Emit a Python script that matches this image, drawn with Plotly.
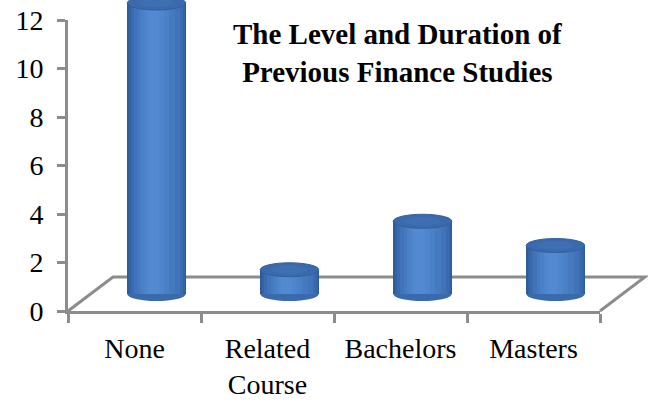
import plotly.graph_objects as go

# ---- data ----
categories = ["None", "Related<br>Course", "Bachelors", "Masters"]
values = [12, 1, 3, 2]
y_ticks = [0, 2, 4, 6, 8, 10, 12]
title_text = "The Level and Duration of<br>Previous Finance Studies"

# ---- layout geometry (pixels) ----
W, H = 648, 403
ml, mr, mt, mb = 68, 3, 0, 92
pw = W - ml - mr          # plot width
ph = H - mt - mb          # plot height
front_w = 532             # front plane width
unit_px = 291 / 12        # pixels per unit
mid_dx, mid_dy = 22, 17   # mid-depth offset
back_dx, back_dy = 45, 34 # back plane offset

GRAY = "#8C8C8C"
FONT = "'Times New Roman', 'Liberation Serif', serif"

fig = go.Figure()

# invisible trace to build the front category axis
fig.add_trace(go.Scatter(x=categories, y=values, mode="markers",
                         marker=dict(opacity=0), hoverinfo="skip",
                         showlegend=False, xaxis="x", yaxis="y"))

# cylinder body: layered bars for a shaded look
bw = 0.44
layers = [
    (0.00, 1.00, "#2E5C9A"),
    (0.03, 0.98, "#3463A5"),
    (0.07, 0.95, "#3A6BAF"),
    (0.12, 0.90, "#4073B9"),
    (0.18, 0.82, "#457ABF"),
    (0.24, 0.72, "#4A80C6"),
    (0.30, 0.62, "#4F85CC"),
    (0.36, 0.54, "#5389D0"),
]
for a, b, col in layers:
    fig.add_trace(go.Bar(x=categories, y=values, width=bw * (b - a),
                         offset=-bw / 2 + bw * a, base=0,
                         marker=dict(color=col, line=dict(width=0)),
                         hoverinfo="skip", showlegend=False,
                         xaxis="x2", yaxis="y2"))

shapes = []
# floor (frame decoration, paper coords of plot area)
fx = lambda px: px / pw
fy = lambda py: py / ph
shapes.append(dict(type="path", xref="paper", yref="paper", layer="below",
                   path=f"M 0 0 L {fx(back_dx)} {fy(back_dy)} L 1 {fy(back_dy)} L {fx(front_w)} 0",
                   line=dict(color=GRAY, width=3)))

ry = 7 / unit_px
for i, v in enumerate(values):
    # bottom rounded end
    shapes.append(dict(type="circle", xref="x2", yref="y2", layer="below",
                       x0=i - bw / 2, x1=i + bw / 2, y0=-ry, y1=ry,
                       fillcolor="#3A6AAE", line=dict(width=0)))
    # top cap
    shapes.append(dict(type="circle", xref="x2", yref="y2", layer="above",
                       x0=i - bw / 2, x1=i + bw / 2, y0=v - ry, y1=v + ry,
                       fillcolor="#3A69AC", line=dict(color="#325F9E", width=1)))
    shapes.append(dict(type="circle", xref="x2", yref="y2", layer="above",
                       x0=i - bw * 0.3, x1=i + bw * 0.3, y0=v - ry * 0.6, y1=v + ry * 0.6,
                       fillcolor="#4172B6", line=dict(width=0), opacity=0.7))

fig.update_layout(
    width=W, height=H,
    margin=dict(l=ml, r=mr, t=mt, b=mb, pad=0, autoexpand=False),
    paper_bgcolor="white", plot_bgcolor="rgba(0,0,0,0)",
    barmode="overlay", bargap=0,
    showlegend=False,
    shapes=shapes,
    font=dict(family=FONT, size=28, color="black"),
    xaxis=dict(type="category", domain=[0, front_w / pw], range=[-0.5, 3.5],
               categoryorder="array", categoryarray=categories,
               tickson="boundaries", ticks="outside", ticklen=9, tickwidth=3,
               tickcolor=GRAY, showline=True, linecolor=GRAY, linewidth=3,
               showgrid=False, zeroline=False, fixedrange=True, automargin=False,
               tickfont=dict(family=FONT, size=28, color="black"),
               ticklabelstandoff=10),
    yaxis=dict(domain=[0, 291 / ph], range=[0, 12], tickvals=y_ticks,
               ticks="outside", ticklen=8, tickwidth=3, tickcolor=GRAY,
               showline=True, linecolor=GRAY, linewidth=3, showgrid=False,
               zeroline=False, automargin=False, fixedrange=True,
               tickfont=dict(family=FONT, size=28, color="black"),
               ticklabelstandoff=8, anchor="x"),
    xaxis2=dict(type="category", domain=[mid_dx / pw, (front_w + mid_dx) / pw],
                range=[-0.5, 3.5], categoryorder="array", categoryarray=categories,
                visible=False, anchor="y2", fixedrange=True),
    yaxis2=dict(domain=[0, 1], range=[-mid_dy / unit_px, (ph - mid_dy) / unit_px],
                visible=False, anchor="x2", fixedrange=True),
    annotations=[dict(text="<b>" + title_text + "</b>", xref="paper", yref="paper",
                      x=(397 - ml) / pw, y=(ph - 53) / ph, xanchor="center", yanchor="middle",
                      showarrow=False, align="center",
                      font=dict(family=FONT, size=29, color="black"))],
)

fig.write_html("out.html", config={"displayModeBar": False},
               post_script="document.body.style.margin='0';")
